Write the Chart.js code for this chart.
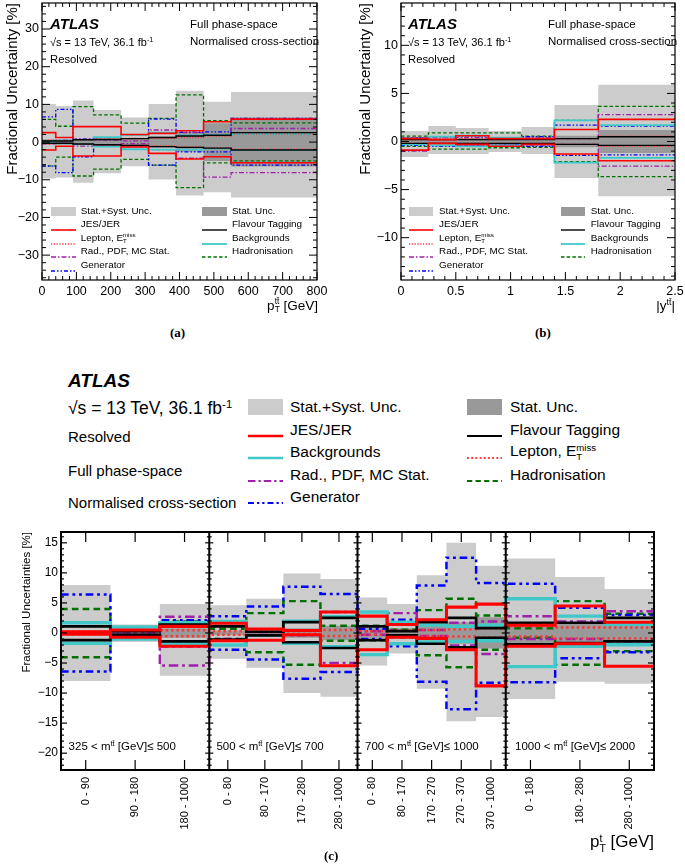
<!DOCTYPE html>
<html>
<head>
<meta charset="utf-8">
<title>Fractional uncertainties</title>
<script src="https://cdn.jsdelivr.net/npm/chart.js@4.4.1/dist/chart.umd.min.js"></script>
<style>
  html, body { margin: 0; padding: 0; background: #fff; }
  body { position: relative; width: 685px; height: 865px; overflow: hidden;
         font-family: "Liberation Sans", Arial, Helvetica, sans-serif; color: #000; }
  canvas { position: absolute; }
  .lbl { position: absolute; white-space: nowrap; line-height: 1.15; }
  .lbl sup { font-size: 65%; vertical-align: 0.55em; line-height: 0; }
  .ss { display: inline-block; vertical-align: middle; line-height: 0.95; font-size: 62%; text-align: left; }
  .ss span { display: block; }
  .atlas { font-weight: bold; font-style: italic; }
  .cap { font-family: "Liberation Serif", "Times New Roman", serif; font-weight: bold; }
</style>
</head>
<body>
<canvas id="chartA" width="340" height="300" style="left:0;top:0"></canvas>
<canvas id="chartB" width="340" height="300" style="left:345px;top:0"></canvas>
<canvas id="chartC" width="685" height="345" style="left:0;top:520px"></canvas>
<script>
// ===============================
//  Data
// ===============================

// (a) pT(tt) bins [GeV]
const edgesA = [0, 40, 90, 150, 230, 310, 390, 470, 550, 800];
const xTicksA = [0, 100, 200, 300, 400, 500, 600, 700, 800];
const yTicksA = [-30, -20, -10, 0, 10, 20, 30];
const totUpA = [10.1, 9.6, 11.0, 8.5, 6.5, 10.1, 13.6, 10.7, 13.3];
const totDnA = [-9.7, -9.4, -10.8, -8.3, -6.4, -9.9, -14.2, -13.3, -14.7];
const statA = [0.6, 0.6, 0.8, 0.9, 1.0, 1.5, 2.6, 5.0, 6.5];
const jesUpA = [2.5, 1.2, 4.1, 4.1, 2.0, 2.3, 3.0, 5.4, 6.1];
const jesDnA = [-2.1, -1.1, -3.7, -3.7, -1.3, -3.0, -4.5, -3.9, -5.5];
const lepUpA = [0.6, 0.4, 0.5, 0.8, 1.0, 1.0, 1.2, 1.6, 2.1];
const lepDnA = [-0.5, -0.4, -0.6, -0.8, -0.8, -1.0, -1.3, -1.5, -1.9];
const radUpA = [0.4, 0.5, 0.8, 0.5, 0.3, 3.2, 2.5, 2.0, 3.6];
const radDnA = [-0.5, -0.3, -1.1, -1.1, -0.4, -2.0, -4.3, -9.3, -8.1];
const genUpA = [6.7, 8.7, 0.8, 1.2, 2.0, 6.1, 2.6, 2.7, 6.3];
const genDnA = [-6.4, -8.1, -3.9, -1.1, -1.0, -6.1, -2.6, -2.6, -6.1];
const flavUpA = [0.3, 0.3, 0.6, 0.7, 0.9, 1.2, 1.6, 1.8, 2.5];
const flavDnA = [-0.3, -0.3, -0.5, -0.7, -0.9, -1.2, -1.4, -1.6, -2.1];
const bkgUpA = [0.3, 0.4, 0.6, 1.3, 1.9, 2.5, 1.8, 1.9, 2.1];
const bkgDnA = [-0.3, -0.4, -0.6, -1.2, -1.9, -2.0, -2.0, -1.7, -2.1];
const hadUpA = [6.0, 4.2, 9.4, 7.2, 5.0, 6.3, 12.5, 5.7, 5.1];
const hadDnA = [-6.3, -4.0, -9.0, -7.2, -4.6, -6.1, -12.1, -5.5, -5.0];

// (b) |y(tt)| bins
const edgesB = [0, 0.25, 0.5, 0.8, 1.1, 1.4, 1.8, 2.5];
const xTicksB = [0, 0.5, 1, 1.5, 2, 2.5];
const yTicksB = [-10, -5, 0, 5, 10];
const totUpB = [1.1, 1.6, 1.4, 1.1, 1.5, 3.8, 5.9];
const totDnB = [-1.6, -1.3, -1.3, -1.1, -1.3, -3.8, -5.7];
const statB = [0.3, 0.3, 0.35, 0.35, 0.4, 0.6, 1.2];
const jesUpB = [0.3, 0.2, 0.6, 0.3, 0.3, 1.24, 2.3];
const jesDnB = [-0.9, -0.2, -0.3, -0.5, -0.3, -1.3, -2.0];
const lepUpB = [0.2, 0.3, 0.3, 0.2, 0.3, 0.3, 0.55];
const lepDnB = [-0.2, -0.2, -0.3, -0.2, -0.2, -0.3, -0.5];
const radUpB = [0.4, 0.4, 0.4, 0.3, 0.4, 0.3, 2.8];
const radDnB = [-1.0, -0.4, -0.4, -0.3, -0.4, -0.3, -2.55];
const genUpB = [0.4, 0.5, 0.5, 0.3, 0.5, 1.7, 1.6];
const genDnB = [-0.4, -0.5, -0.4, -0.3, -0.5, -1.45, -1.4];
const flavUpB = [0.2, 0.2, 0.2, 0.2, 0.2, 0.3, 0.5];
const flavDnB = [-0.2, -0.2, -0.2, -0.2, -0.2, -0.3, -0.4];
const bkgUpB = [0.3, 0.5, 0.6, 0.4, 0.3, 2.2, 1.7];
const bkgDnB = [-0.3, -0.4, -0.5, -0.4, -0.3, -2.2, -1.7];
const hadUpB = [0.55, 0.9, 0.9, 0.9, 0.55, 2.2, 3.65];
const hadDnB = [-0.5, -0.8, -0.8, -0.65, -0.6, -2.1, -3.65];

// (c) pT(t) bins in four m(tt) slices
const binsPerSliceC = [3, 4, 5, 3];
const sliceLabelsC = ['325 &lt; m<sup>tt̄</sup> [GeV]≤ 500', '500 &lt; m<sup>tt̄</sup> [GeV]≤ 700',
                      '700 &lt; m<sup>tt̄</sup> [GeV]≤ 1000', '1000 &lt; m<sup>tt̄</sup> [GeV]≤ 2000'];
const binLabelsC = ['0 - 90', '90 - 180', '180 - 1000',
                    '0 - 80', '80 - 170', '170 - 280', '280 - 1000',
                    '0 - 80', '80 - 170', '170 - 270', '270 - 370', '370 - 1000',
                    '0 - 180', '180 - 280', '280 - 1000'];
const yTicksC = [-20, -15, -10, -5, 0, 5, 10, 15];
const totUpC = [8.0, 1.4, 4.8, 4.6, 5.7, 9.9, 9.0, 5.9, 4.8, 9.6, 15.0, 11.2, 12.4, 9.3, 7.3];
const totDnC = [-8.0, -1.5, -7.1, -4.3, -5.8, -10.0, -10.6, -5.4, -3.4, -9.3, -14.7, -14.0, -11.0, -8.1, -8.45];
const statC = [0.3, 0.3, 0.8, 0.4, 0.5, 0.8, 1.2, 0.8, 0.8, 1.2, 1.8, 2.6, 1.8, 1.7, 1.5];
const jesUpC = [0.2, 0.5, 1.1, 1.6, 0.65, 0.4, 3.5, 2.8, 1.4, 2.2, 4.3, 4.8, 1.3, 4.5, 1.8];
const jesDnC = [-0.2, -0.7, -2.2, -1.3, -1.2, -0.3, -5.45, -2.8, -0.7, -0.9, -2.8, -8.8, -2.2, -1.8, -5.55];
const lepUpC = [0.2, 0.3, 0.45, 0.3, 0.3, 0.3, 0.5, 0.3, 0.4, 0.5, 0.6, 0.8, 1.1, 0.9, 0.9];
const lepDnC = [-0.2, -0.3, -0.55, -0.3, -0.3, -0.3, -0.5, -0.3, -0.4, -0.5, -0.6, -0.8, -0.6, -0.9, -0.9];
const radUpC = [0.1, 0.3, 2.7, 1.8, 0.3, 0.4, 3.5, 0.3, 3.3, 0.5, 1.7, 1.9, 2.8, 1.9, 3.6];
const radDnC = [-0.1, -0.3, -5.4, -1.0, -0.3, -0.4, -5.0, -0.3, -0.5, -0.5, -2.1, -3.5, -1.0, -1.0, -1.4];
const genUpC = [6.4, 0.3, 2.1, 2.8, 4.4, 7.7, 6.5, 0.7, 2.2, 7.9, 12.5, 8.3, 8.2, 4.2, 3.0];
const genDnC = [-6.4, -0.3, -2.2, -2.8, -4.4, -7.6, -6.5, -1.0, -2.2, -8.1, -12.7, -8.3, -8.2, -4.2, -3.2];
const flavUpC = [1.1, 0.3, 1.4, 1.1, 0.2, 1.8, 2.5, 1.1, 0.3, 1.8, 2.5, 0.8, 1.7, 1.7, 2.5];
const flavDnC = [-1.2, -0.3, -1.4, -1.1, -0.4, -1.55, -2.5, -1.2, -0.4, -1.8, -2.4, -0.8, -1.9, -1.7, -1.4];
const bkgUpC = [1.7, 1.0, 1.7, 1.9, 0.4, 1.95, 2.7, 3.5, 1.8, 1.3, 1.1, 1.3, 5.7, 2.8, 1.4];
const bkgDnC = [-1.7, -1.0, -1.7, -2.0, -0.4, -1.7, -2.3, -3.6, -1.8, -1.5, -1.4, -1.3, -5.6, -2.2, -1.95];
const hadUpC = [4.0, 0.5, 1.9, 0.7, 3.3, 5.3, 1.2, 1.2, 0.55, 3.8, 5.7, 2.9, 0.8, 5.3, 3.2];
const hadDnC = [-4.05, -0.5, -1.55, -1.0, -3.2, -5.3, -1.3, -1.2, -0.7, -3.7, -5.7, -2.8, -0.8, -5.3, -3.05];

// ===============================
//  Styles
// ===============================
const TOT_COLOR = '#cccccc';
const STAT_COLOR = '#999999';
const STYLE = {
  jes:  { color: '#ff0000', dash: [], w: 1.6 },
  bkg:  { color: '#40c8c8', dash: [], w: 1.8 },
  flav: { color: '#000000', dash: [], w: 1.4 },
  lep:  { color: '#ff3333', dash: [1.2, 1.6], w: 1.3 },
  rad:  { color: '#a020a8', dash: [5, 2, 1.5, 2], w: 1.3 },
  gen:  { color: '#0000ff', dash: [4, 2, 1.5, 2, 1.5, 2], w: 1.3 },
  had:  { color: '#007000', dash: [3.5, 2.2], w: 1.3 },
};
const LINE_ORDER = ['jes', 'flav', 'lep', 'bkg', 'rad', 'gen', 'had'];

const sq = (sup, sub) => `<span class="ss"><span>${sup}</span><span>${sub}</span></span>`;
const LABELS = {
  tot: 'Stat.+Syst. Unc.', stat: 'Stat. Unc.', jes: 'JES/JER', lep: 'Lepton, E' + sq('miss', 'T'),
  rad: 'Rad., PDF, MC Stat.', gen: 'Generator', flav: 'Flavour Tagging', bkg: 'Backgrounds', had: 'Hadronisation',
};

Chart.defaults.font.family = '"Liberation Sans", Arial, Helvetica, sans-serif';
Chart.defaults.color = '#000';

// ===============================
//  Helpers
// ===============================
function steps(edges, vals) {
  const pts = vals.map((v, i) => ({ x: edges[i], y: v }));
  pts.push({ x: edges[edges.length - 1], y: vals[vals.length - 1] });
  return pts;
}

function buildDatasets(edges, src, totUp, totDn, stat, k) {
  const ds = [];
  LINE_ORDER.forEach((key) => {
    const st = STYLE[key];
    src[key].forEach((vals) => {
      ds.push({ data: steps(edges, vals), stepped: true, pointRadius: 0, fill: false,
                borderColor: st.color, borderWidth: st.w * k, borderDash: st.dash.map((d) => d * k) });
    });
  });
  const band = (up, dn, color) => [
    { data: steps(edges, up), stepped: true, pointRadius: 0, borderWidth: 0,
      borderColor: 'rgba(0,0,0,0)', backgroundColor: color, fill: '+1' },
    { data: steps(edges, dn), stepped: true, pointRadius: 0, borderWidth: 0,
      borderColor: 'rgba(0,0,0,0)', fill: false },
  ];
  ds.push(...band(stat, stat.map((v) => -v), STAT_COLOR));
  ds.push(...band(totUp, totDn, TOT_COLOR));
  return ds;
}

const minus = (v) => (v < 0 ? '\u2212' + Math.abs(v) : String(v));

// ROOT-like frame with inward ticks
const rootFrame = {
  id: 'rootFrame',
  afterDatasetsDraw(chart, args, o) {
    const { ctx, chartArea: a } = chart;
    const xs = chart.scales.x, ys = chart.scales.y;
    const seg = (x0, y0, x1, y1) => { ctx.beginPath(); ctx.moveTo(x0, y0); ctx.lineTo(x1, y1); ctx.stroke(); };
    const grid = (min, max, step) => {
      const out = [];
      for (let i = Math.ceil(min / step - 1e-9); i * step <= max + 1e-9; i++) out.push(i * step);
      return out;
    };
    const major = (v, m) => Math.abs(v / m - Math.round(v / m)) < 1e-6;
    const dividers = o.dividers || [];
    ctx.save();
    ctx.strokeStyle = '#000';
    ctx.lineWidth = o.tw;
    grid(ys.min, ys.max, o.yMinor).forEach((v) => {
      const py = ys.getPixelForValue(v);
      const len = major(v, o.yMajor) ? o.yLen : o.yLen / 2;
      seg(a.left, py, a.left + len, py);
      seg(a.right, py, a.right - len, py);
      dividers.forEach((d) => {
        const px = xs.getPixelForValue(d);
        const dl = major(v, o.yMajor) ? o.divLen : o.divLen * 0.6;
        seg(px - dl, py, px + dl, py);
      });
    });
    const xt = o.xTicks ? o.xTicks : grid(xs.min, xs.max, o.xMinor);
    xt.forEach((v) => {
      const px = xs.getPixelForValue(v);
      const len = (!o.xMajor || major(v, o.xMajor)) ? o.xLen : o.xLen / 2;
      seg(px, a.bottom, px, a.bottom - len);
      seg(px, a.top, px, a.top + len);
    });
    ctx.lineWidth = o.lw;
    dividers.forEach((d) => {
      const px = xs.getPixelForValue(d);
      seg(px, a.top, px, a.bottom);
    });
    ctx.strokeRect(a.left, a.top, a.right - a.left, a.bottom - a.top);
    ctx.restore();
  },
};

function makeChart(id, c) {
  return new Chart(document.getElementById(id), {
    type: 'line',
    data: { datasets: c.datasets },
    options: {
      responsive: false,
      animation: false,
      events: [],
      layout: { padding: c.pad },
      plugins: { legend: { display: false }, tooltip: { enabled: false }, rootFrame: c.frame },
      scales: {
        x: {
          type: 'linear', min: c.xMin, max: c.xMax,
          grid: { display: false, drawTicks: false }, border: { display: false },
          afterBuildTicks: (s) => { s.ticks = c.xTicks.map((v) => ({ value: v })); },
          afterFit: (s) => { s.height = c.xH; s.paddingLeft = 0; s.paddingRight = 0; },
          ticks: { autoSkip: false, maxRotation: c.xRot, minRotation: c.xRot, padding: c.xPad,
                   font: { size: c.xFont }, callback: c.xLabel },
        },
        y: {
          min: c.yMin, max: c.yMax,
          grid: { display: false, drawTicks: false }, border: { display: false },
          afterBuildTicks: (s) => { s.ticks = c.yTicks.map((v) => ({ value: v })); },
          afterFit: (s) => { s.width = c.yW; s.paddingTop = 0; s.paddingBottom = 0; },
          ticks: { padding: c.yPad, font: { size: c.yFont }, callback: (v) => minus(v) },
          title: { display: true, text: c.yTitle, align: 'end', font: { size: c.yTitleSize },
                   padding: { top: c.yTitlePad, bottom: 0 } },
        },
      },
    },
    plugins: [rootFrame],
  });
}

// ===============================
//  Text overlays
// ===============================
function place(html, x, y, size, cls, right) {
  const d = document.createElement('div');
  d.className = 'lbl ' + (cls || '');
  d.innerHTML = html;
  d.style.left = x + 'px';
  d.style.top = y + 'px';
  d.style.fontSize = size + 'px';
  d.style.transform = right ? 'translate(-100%,-50%)' : 'translate(0,-50%)';
  document.body.appendChild(d);
  return d;
}

function swatch(key, x, y, w, h, k) {
  const d = document.createElement('div');
  d.style.position = 'absolute';
  d.style.left = x + 'px';
  if (key === 'tot' || key === 'stat') {
    d.style.top = (y - h / 2) + 'px';
    d.style.width = w + 'px';
    d.style.height = h + 'px';
    d.style.background = key === 'tot' ? TOT_COLOR : STAT_COLOR;
  } else {
    const st = STYLE[key];
    d.style.top = (y - 4) + 'px';
    d.innerHTML = `<svg width="${w}" height="8"><line x1="0" y1="4" x2="${w}" y2="4" stroke="${st.color}"` +
      ` stroke-width="${st.w * k}" stroke-dasharray="${st.dash.length ? st.dash.map((v) => v * k).join(' ') : 'none'}"/></svg>`;
  }
  document.body.appendChild(d);
}

function legend(cols, y0, dy, w, h, size, k) {
  cols.forEach((col) => {
    col.keys.forEach((key, i) => {
      const y = y0 + i * dy;
      swatch(key, col.sx, y, w, h, k);
      place(LABELS[key], col.tx, y, size);
    });
  });
}

// ===============================
//  Panel (a)
// ===============================
const srcA = { jes: [jesUpA, jesDnA], lep: [lepUpA, lepDnA], rad: [radUpA, radDnA], gen: [genUpA, genDnA],
               flav: [flavUpA, flavDnA], bkg: [bkgUpA, bkgDnA], had: [hadUpA, hadDnA] };
makeChart('chartA', {
  datasets: buildDatasets(edgesA, srcA, totUpA, totDnA, statA, 1),
  pad: { left: 0, top: 3, right: 23, bottom: 0 },
  xMin: 0, xMax: 800, xTicks: xTicksA, xH: 20, xRot: 0, xPad: 4, xFont: 12.5, xLabel: (v) => String(v),
  yMin: -36.6, yMax: 36.9, yTicks: yTicksA, yW: 42, yPad: 3, yFont: 12.5,
  yTitle: 'Fractional Uncertainty [%]', yTitleSize: 15, yTitlePad: 4,
  frame: { lw: 1.2, tw: 1, yMinor: 2, yMajor: 10, yLen: 8, xMinor: 20, xMajor: 100, xLen: 8 },
});

// ===============================
//  Panel (b)
// ===============================
const srcB = { jes: [jesUpB, jesDnB], lep: [lepUpB, lepDnB], rad: [radUpB, radDnB], gen: [genUpB, genDnB],
               flav: [flavUpB, flavDnB], bkg: [bkgUpB, bkgDnB], had: [hadUpB, hadDnB] };
makeChart('chartB', {
  datasets: buildDatasets(edgesB, srcB, totUpB, totDnB, statB, 1),
  pad: { left: 0, top: 3, right: 10, bottom: 0 },
  xMin: 0, xMax: 2.5, xTicks: xTicksB, xH: 20, xRot: 0, xPad: 4, xFont: 12.5, xLabel: (v) => String(v),
  yMin: -14.4, yMax: 14.4, yTicks: yTicksB, yW: 56, yPad: 3, yFont: 12.5,
  yTitle: 'Fractional Uncertainty [%]', yTitleSize: 15, yTitlePad: 12,
  frame: { lw: 1.2, tw: 1, yMinor: 1, yMajor: 5, yLen: 8, xMinor: 0.1, xMajor: 0.5, xLen: 8 },
});

// ===============================
//  Panel (c)
// ===============================
const edgesC = [];
binsPerSliceC.forEach((n, s) => { for (let i = 0; i < n; i++) edgesC.push(s + i / n); });
edgesC.push(binsPerSliceC.length);
const centersC = edgesC.slice(0, -1).map((e, i) => (e + edgesC[i + 1]) / 2);
const srcC = { jes: [jesUpC, jesDnC], lep: [lepUpC, lepDnC], rad: [radUpC, radDnC], gen: [genUpC, genDnC],
               flav: [flavUpC, flavDnC], bkg: [bkgUpC, bkgDnC], had: [hadUpC, hadDnC] };
makeChart('chartC', {
  datasets: buildDatasets(edgesC, srcC, totUpC, totDnC, statC, 1.9),
  pad: { left: 0, top: 12, right: 31, bottom: 0 },
  xMin: 0, xMax: binsPerSliceC.length, xTicks: centersC, xH: 95, xRot: 90, xPad: 7, xFont: 11,
  xLabel: (v, i) => binLabelsC[i],
  yMin: -22.8, yMax: 16.8, yTicks: yTicksC, yW: 61, yPad: 3, yFont: 12,
  yTitle: 'Fractional Uncertainties [%]', yTitleSize: 11.5, yTitlePad: 20,
  frame: { lw: 2, tw: 1.2, yMinor: 1, yMajor: 5, yLen: 6, xTicks: centersC, xLen: 10,
           dividers: [1, 2, 3], divLen: 4 },
});

// ---- annotations (a) and (b)
[0, 358].forEach((dx) => {
  place('ATLAS', 50 + dx, 24, 15, 'atlas');
  place('√s = 13 TeV, 36.1 fb<sup>-1</sup>', 50 + dx, 42, 11);
  place('Resolved', 50 + dx, 59, 11.3);
  place('Full phase-space', 190 + dx, 25, 11.5);
  place('Normalised cross-section', 190 + dx, 42, 11.5);
});
legend([{ keys: ['tot', 'jes', 'lep', 'rad', 'gen'], sx: 51, tx: 80.7 },
        { keys: ['stat', 'flav', 'bkg', 'had'], sx: 202, tx: 232 }], 211, 13.4, 25, 9, 9.9, 1);
legend([{ keys: ['tot', 'jes', 'lep', 'rad', 'gen'], sx: 409, tx: 439 },
        { keys: ['stat', 'flav', 'bkg', 'had'], sx: 560.7, tx: 590.7 }], 211, 13.4, 24, 9, 9.9, 1);
place('p' + sq('tt̄', 'T') + ' [GeV]', 318, 306, 13.5, '', true);
place('|y<sup>tt̄</sup>|', 675, 306, 13.5, '', true);
place('(a)', 170, 333, 13, 'cap');
place('(b)', 535, 333, 13, 'cap');

// ---- annotations (c)
place('ATLAS', 68, 381, 19, 'atlas');
place('√s = 13 TeV, 36.1 fb<sup>-1</sup>', 68, 408, 17.5);
place('Resolved', 68, 437, 15);
place('Full phase-space', 68, 471, 15);
place('Normalised cross-section', 68, 503, 15);
legend([{ keys: ['tot', 'jes', 'bkg', 'rad', 'gen'], sx: 248, tx: 290 },
        { keys: ['stat', 'flav', 'lep', 'had'], sx: 467, tx: 510 }], 407, 22.5, 35, 16, 15.5, 1.5);
[68.6, 216.4, 365, 515].forEach((x, i) => place(sliceLabelsC[i], x, 747, 11.5));
place('p' + sq('t', 'T') + ' [GeV]', 654, 842, 17, '', true);
place('(c)', 324, 856, 13, 'cap');
</script>
</body>
</html>
